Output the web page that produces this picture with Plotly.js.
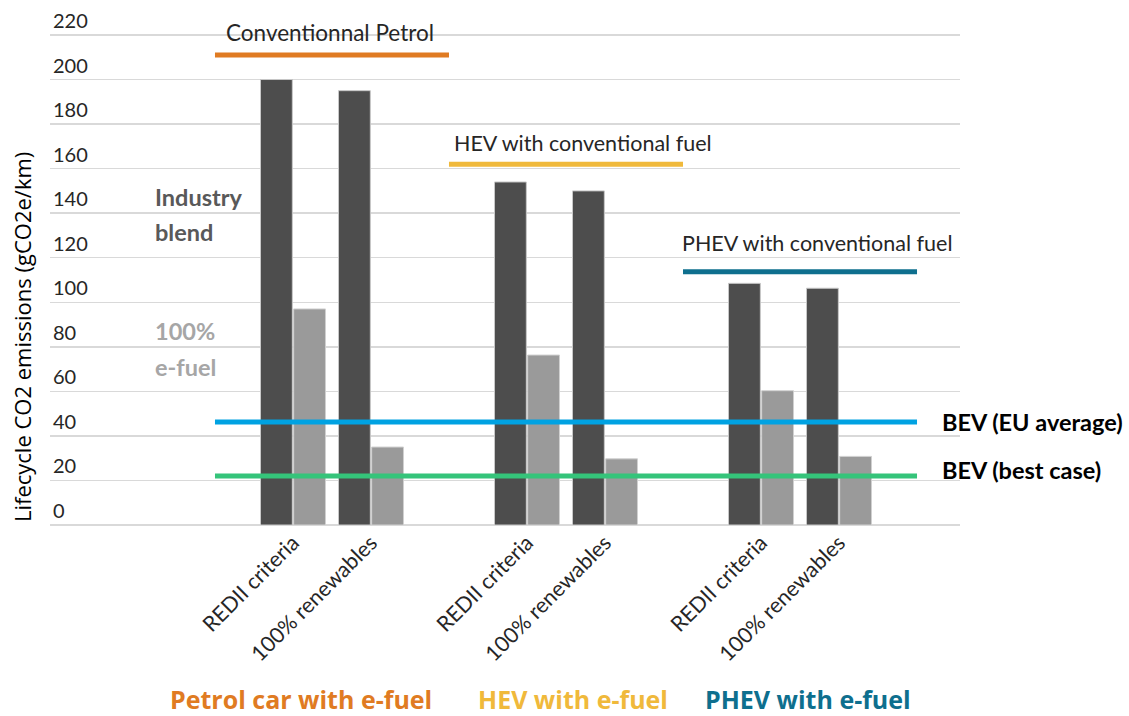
<!DOCTYPE html>
<html>
<head>
<meta charset="utf-8">
<script src="https://cdn.plot.ly/plotly-3.0.1.min.js"></script>
<style>html,body{margin:0;padding:0;background:#fff;}#chart{width:1129px;height:716px;}</style>
</head>
<body>
<div id="chart"></div>
<script>
// category slots (positions on a numeric x axis, slot width = 1)
const slotPositions = [0, 1, 3, 4, 6, 7];
const tickLabels = ["REDII criteria", "100% renewables", "REDII criteria", "100% renewables", "REDII criteria", "100% renewables"];
const yTickValues = [0, 20, 40, 60, 80, 100, 120, 140, 160, 180, 200, 220];

// series values (gCO2e/km)
const industryBlend = [200, 195, 154, 150, 108.5, 106.3];
const eFuel100 = [97, 35, 76.3, 29.7, 60.3, 30.8];

// reference levels
const conventionalPetrol = 211;
const hevConventional = 162;
const phevConventional = 113.7;
const bevEuAverage = 46.2;
const bevBestCase = 22;

// segment extents (slot units)
const petrolSpan = [-1, 2];
const hevSpan = [2, 5];
const phevSpan = [5, 8];
const bevSpan = [-1, 8];

const groupLabels = ["Petrol car with e-fuel", "HEV with e-fuel", "PHEV with e-fuel"];
const groupCenters = [0.1, 3.59, 6.6];
const groupColors = ["#e07b22", "#f0b93b", "#0e6f8e"];

const FONT = "Lato, 'Noto Sans', sans-serif";
const WIDE = "'Open Sans', 'Noto Sans', sans-serif";

const traces = [
  {type:"bar", x:slotPositions, y:industryBlend, name:"Industry blend",
   marker:{color:"#4d4d4d", line:{color:"#c8c8c8", width:1}}, hoverinfo:"y"},
  {type:"bar", x:slotPositions, y:eFuel100, name:"100% e-fuel",
   marker:{color:"#9a9a9a", line:{color:"#d0d0d0", width:1}}, hoverinfo:"y"},
  {type:"scatter", mode:"lines", x:petrolSpan, y:[conventionalPetrol, conventionalPetrol],
   line:{color:"#e07b22", width:5}, cliponaxis:false, hoverinfo:"skip"},
  {type:"scatter", mode:"lines", x:hevSpan, y:[hevConventional, hevConventional],
   line:{color:"#f0b93b", width:5}, cliponaxis:false, hoverinfo:"skip"},
  {type:"scatter", mode:"lines", x:phevSpan, y:[phevConventional, phevConventional],
   line:{color:"#0e6f8e", width:5}, cliponaxis:false, hoverinfo:"skip"},
  {type:"scatter", mode:"lines", x:bevSpan, y:[bevEuAverage, bevEuAverage],
   line:{color:"#00a2e2", width:5}, cliponaxis:false, hoverinfo:"skip"},
  {type:"scatter", mode:"lines", x:bevSpan, y:[bevBestCase, bevBestCase],
   line:{color:"#35c47a", width:5}, cliponaxis:false, hoverinfo:"skip"}
];

const REG = 21.5, BOLD = 23.5, SIDE = 23.5;
const annotations = [
  {x:0.474, y:220.9, text:"Conventionnal Petrol", font:{size:22.5, color:"#262626"}, xanchor:"center"},
  {x:3.72, y:171.5, text:"HEV with conventional fuel", font:{size:REG, color:"#262626"}, xanchor:"center"},
  {x:6.73, y:126.6, text:"PHEV with conventional fuel", font:{size:REG, color:"#262626"}, xanchor:"center"},
  {x:8.3, y:46.2, text:"<b>BEV (EU average)</b>", font:{size:BOLD, color:"#000"}, xanchor:"left"},
  {x:8.3, y:24.7, text:"<b>BEV (best case)</b>", font:{size:BOLD, color:"#000"}, xanchor:"left"},
  {x:-1.8, y:147.3, text:"<b>Industry</b>", font:{size:SIDE, color:"#595959"}, xanchor:"left"},
  {x:-1.8, y:131.5, text:"<b>blend</b>", font:{size:SIDE, color:"#595959"}, xanchor:"left"},
  {x:-1.8, y:87.1, text:"<b>100%</b>", font:{size:SIDE, color:"#a6a6a6"}, xanchor:"left"},
  {x:-1.8, y:70.9, text:"<b>e-fuel</b>", font:{size:SIDE, color:"#a6a6a6"}, xanchor:"left"}
].map(a => Object.assign({xref:"x", yref:"y", showarrow:false, yanchor:"middle"}, a));

groupLabels.forEach((t, i) => annotations.push({
  xref:"x", yref:"paper", x:groupCenters[i], y:-0.3305, text:"<b>"+t+"</b>", showarrow:false,
  xanchor:"center", yanchor:"middle", font:{family:WIDE, size:25, color:groupColors[i]}
}));

// y-axis title (placed like the original, lower than the plot centre)
annotations.push({
  xref:"paper", yref:"paper", x:-0.0308, y:0.358, textangle:-90, showarrow:false,
  xanchor:"center", yanchor:"middle", text:"Lifecycle CO2 emissions (gCO2e/km)",
  font:{family:WIDE, size:22, color:"#000"}
});

const layout = {
  width:1129, height:716,
  margin:{l:50, r:169, t:0, b:191},
  paper_bgcolor:"#fff", plot_bgcolor:"#fff",
  font:{family:FONT, size:REG, color:"#262626"},
  showlegend:false,
  barmode:"group", bargap:0.15, bargroupgap:0.04,
  xaxis:{range:[-3.115, 8.551], tickmode:"array", tickvals:slotPositions, ticktext:tickLabels,
    tickangle:-45, showgrid:false, zeroline:false, showline:false, ticks:"",
    tickfont:{size:REG, color:"#262626"}, fixedrange:true},
  yaxis:{range:[0, 235.7], tickmode:"array", tickvals:yTickValues,
    showgrid:true, gridcolor:"#d9d9d9", gridwidth:1.5,
    zeroline:true, zerolinecolor:"#d9d9d9", zerolinewidth:1.5, showline:false, ticks:"",
    ticklabelposition:"inside top", tickfont:{size:20, color:"#262626"},
    fixedrange:true},
  annotations:annotations
};

Plotly.newPlot("chart", traces, layout, {displayModeBar:false, staticPlot:true});
</script>
</body>
</html>
